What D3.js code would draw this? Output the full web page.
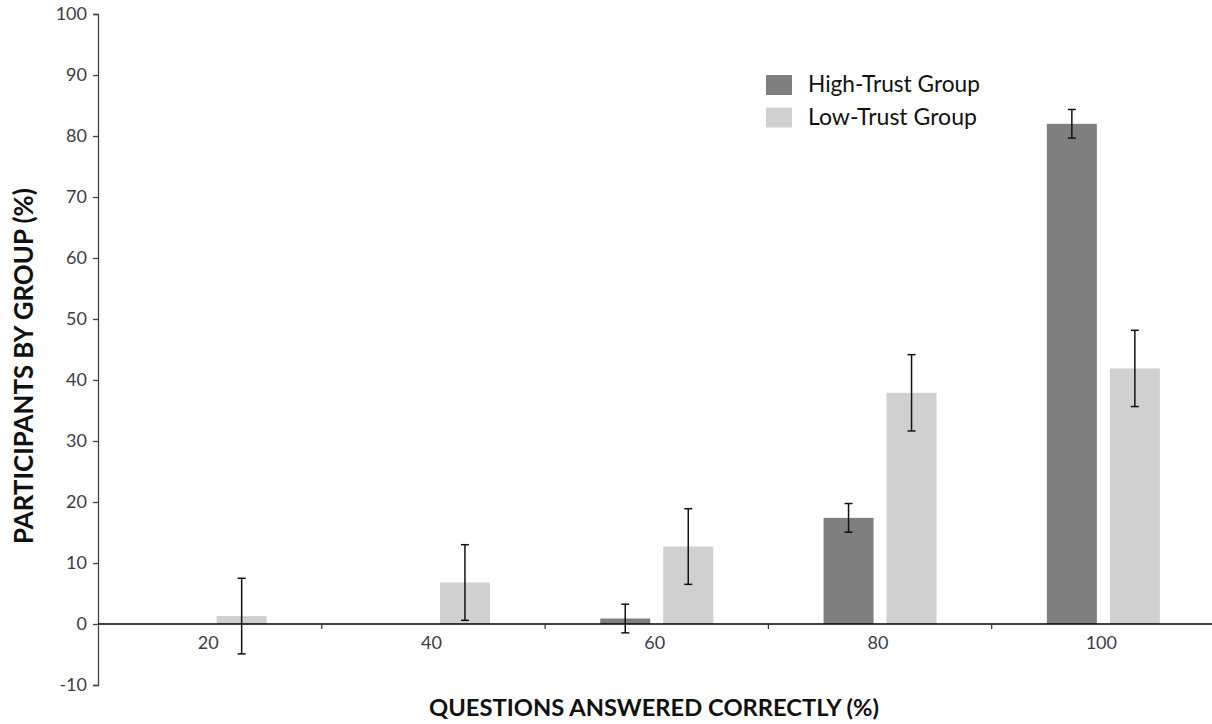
<!DOCTYPE html>
<html>
<head>
<meta charset="utf-8">
<script src="https://cdn.jsdelivr.net/npm/d3@7/dist/d3.min.js"></script>
<style>
  html, body { margin: 0; padding: 0; background: #fff; }
  svg { display: block; }
  text { font-family: Lato, "Open Sans", sans-serif; }
</style>
</head>
<body>
<svg id="chart" width="1212" height="724"></svg>
<script>
// Share of participants in each group by questions answered correctly
const categories = ["20", "40", "60", "80", "100"];
const groups = ["High-Trust Group", "Low-Trust Group"];
const highTrust = [null, null, 0.9, 17.4, 82.0];
const highTrustErr = [null, null, 2.35, 2.35, 2.35];
const lowTrust = [1.3, 6.8, 12.7, 37.9, 41.9];
const lowTrustErr = [6.2, 6.2, 6.2, 6.25, 6.25];
const yTicks = [-10, 0, 10, 20, 30, 40, 50, 60, 70, 80, 90, 100];

const colors = { "High-Trust Group": "#7f7f7f", "Low-Trust Group": "#d0d0d0" };

const svg = d3.select("#chart");

const y = d3.scaleLinear().domain([-10, 100]).range([685, 14]);
const x = d3.scaleBand().domain(categories).range([98.5, 1215]).paddingInner(0).paddingOuter(0);
const x1 = d3.scaleBand().domain(groups).range([0, x.bandwidth()])
  .paddingInner(0.206).paddingOuter(0.875);

const rows = [];
categories.forEach((c, i) => {
  if (highTrust[i] != null) rows.push({ cat: c, group: groups[0], v: highTrust[i], e: highTrustErr[i] });
  if (lowTrust[i] != null) rows.push({ cat: c, group: groups[1], v: lowTrust[i], e: lowTrustErr[i] });
});

// bars
svg.append("g").selectAll("rect").data(rows).join("rect")
  .attr("x", d => x(d.cat) + x1(d.group))
  .attr("width", x1.bandwidth())
  .attr("y", d => y(Math.max(0, d.v)))
  .attr("height", d => Math.abs(y(d.v) - y(0)))
  .attr("fill", d => colors[d.group]);

// y axis
const yAxis = svg.append("g").attr("transform", "translate(98,0)")
  .call(d3.axisLeft(y).tickValues(yTicks).tickSize(5).tickPadding(6).tickFormat(d => String(d)));
yAxis.select(".domain").attr("stroke", "#444").attr("stroke-width", 1.3);
yAxis.selectAll(".tick line").attr("stroke", "#444").attr("stroke-width", 1.3);
yAxis.selectAll(".tick text").attr("font-size", 18).attr("fill", "#3c3c48");

// x axis along zero, ticks at category boundaries
const y0 = y(0);
const xg = svg.append("g");
xg.append("line").attr("x1", 98).attr("x2", 1212).attr("y1", y0).attr("y2", y0)
  .attr("stroke", "#000").attr("stroke-width", 1.4);
xg.selectAll("line.tk").data(categories.slice(1)).join("line").attr("class", "tk")
  .attr("x1", d => x(d)).attr("x2", d => x(d))
  .attr("y1", y0).attr("y2", y0 + 5)
  .attr("stroke", "#333").attr("stroke-width", 1.2);
xg.selectAll("text").data(categories).join("text")
  .attr("x", d => x(d) + x.bandwidth() / 2 - 2)
  .attr("y", y0 + 25)
  .attr("text-anchor", "middle")
  .attr("font-size", 18).attr("fill", "#3c3c48")
  .text(d => d);

// error bars
const eg = svg.append("g").attr("stroke", "#111").attr("stroke-width", 1.5);
rows.forEach(d => {
  const cx = x(d.cat) + x1(d.group) + x1.bandwidth() / 2;
  const top = y(d.v + d.e), bot = y(d.v - d.e);
  eg.append("line").attr("x1", cx).attr("x2", cx).attr("y1", top).attr("y2", bot);
  eg.append("line").attr("x1", cx - 4).attr("x2", cx + 4).attr("y1", top).attr("y2", top);
  eg.append("line").attr("x1", cx - 4).attr("x2", cx + 4).attr("y1", bot).attr("y2", bot);
});

// fit a text element to a target width by adjusting its font size
function fit(sel, width) {
  const node = sel.node();
  const w = node.getComputedTextLength();
  const fs = parseFloat(sel.attr("font-size"));
  sel.attr("font-size", fs * width / w);
}

// legend
const lg = svg.append("g");
groups.forEach((g, i) => {
  const ty = 75 + i * 32.5;
  lg.append("rect").attr("x", 766).attr("y", ty).attr("width", 26).attr("height", 20)
    .attr("fill", colors[g]);
  const t = lg.append("text").attr("x", 808).attr("y", ty + 17)
    .attr("font-size", 20).attr("fill", "#111").text(g);
  fit(t, i === 0 ? 172 : 169);
});

// axis titles
const xt = svg.append("text").attr("x", 654).attr("y", 716).attr("text-anchor", "middle")
  .attr("font-size", 22).attr("font-weight", "bold").attr("fill", "#111")
  .text("QUESTIONS ANSWERED CORRECTLY (%)");
fit(xt, 450);

const yt = svg.append("text").attr("transform", "translate(33,366) rotate(-90)")
  .attr("text-anchor", "middle")
  .attr("font-size", 22).attr("font-weight", "bold").attr("fill", "#111")
  .text("PARTICIPANTS BY GROUP (%)");
fit(yt, 356);
</script>
</body>
</html>
